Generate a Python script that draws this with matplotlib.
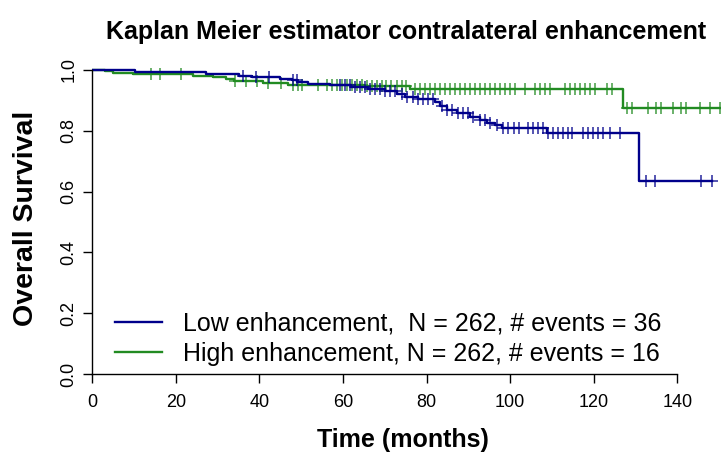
import matplotlib
matplotlib.use("Agg")
import matplotlib.pyplot as plt
import numpy as np

plt.rcParams['font.family'] = ['Liberation Sans', 'DejaVu Sans']

title = "Kaplan Meier estimator contralateral enhancement"
xlabel = "Time (months)"
ylabel = "Overall Survival"

low_label = "Low enhancement,  N = 262, # events = 36"
high_label = "High enhancement, N = 262, # events = 16"

# Low enhancement step curve
low_times = [0, 10.2, 27.2, 35.1, 38.1, 44.9, 47.7, 49.0, 51.6, 56.9, 62.0, 66.0, 70.0,
             72.9, 74.8, 78.0, 82.0, 83.2, 84.8, 87.2, 90.4, 92.8, 94.4, 96.4, 98.0,
             108.7, 130.9]
low_surv = [1.0, 0.993, 0.986, 0.981, 0.977, 0.972, 0.966, 0.959, 0.955, 0.950, 0.944,
            0.938, 0.930, 0.922, 0.912, 0.904, 0.896, 0.883, 0.868, 0.858, 0.846, 0.836,
            0.827, 0.819, 0.810, 0.794, 0.636]
low_end = 148.3
low_censor = [36.1, 39.2, 42.2, 48.1, 48.9, 59.3, 60.5, 61.7, 62.9, 64.1, 65.3, 66.5, 67.7,
              68.9, 70.1, 71.3, 72.5, 74.0, 75.2, 76.8, 78.0, 79.2, 80.4, 81.6, 83.6, 84.8,
              86.0, 87.6, 88.8, 90.0, 91.2, 92.8, 94.0, 95.2, 96.8, 98.4, 99.6, 100.8, 102.0,
              104.3, 105.5, 106.7, 107.9, 109.1, 110.3, 111.5, 112.7, 113.9, 114.8, 117.5,
              118.7, 119.9, 121.1, 122.3, 123.9, 126.3, 132.4, 134.6, 145.6, 148.3]

# High enhancement step curve
high_times = [0, 3.0, 5.0, 9.7, 24.0, 29.0, 32.0, 34.0, 40.8, 46.8, 65.0, 76.0, 127.1]
high_surv = [1.0, 0.997, 0.991, 0.986, 0.981, 0.976, 0.970, 0.965, 0.958, 0.952, 0.947,
             0.9375, 0.876]
high_end = 151.0
high_censor = [14.1, 16.2, 21.2, 34.1, 36.9, 39.3, 42.1, 45.1, 48.1, 49.3, 50.1, 54.1, 56.1,
               57.3, 58.5, 59.7, 60.9, 62.1, 63.3, 64.5, 65.7, 66.9, 68.1, 69.3, 70.4, 71.6,
               72.8, 74.0, 75.0, 77.2, 78.4, 79.6, 80.8, 82.0, 83.2, 84.4, 85.6, 86.8, 88.0,
               89.2, 90.4, 91.6, 92.8, 94.0, 95.2, 96.4, 97.6, 98.8, 100.0, 101.1, 103.5,
               105.9, 107.1, 108.3, 109.5, 113.1, 114.3, 115.5, 116.7, 117.9, 119.1, 120.3,
               123.1, 124.3, 127.9, 129.1, 133.1, 135.0, 136.2, 139.0, 141.0, 142.2, 145.4,
               147.8, 150.2]

xticks = [0, 20, 40, 60, 80, 100, 120, 140]
yticks = [0.0, 0.2, 0.4, 0.6, 0.8, 1.0]

low_color = "#00008B"
high_color = "#228B22"

W, H = 721, 453
fig = plt.figure(figsize=(W / 100, H / 100), dpi=100)

# pixel geometry: x=0 -> 92.3 px, x=140 -> 677.3 px ; y=0 -> 374 px, y=1 -> 70 px
px_per_x = (677.3 - 92.3) / 140
px_per_y = (374 - 70) / 1.0
left_px, bottom_px = 92.3, 374
xmax = (W - left_px) / px_per_x
top_px = 55
ymax = (bottom_px - top_px) / px_per_y
ax = fig.add_axes([left_px / W, (H - bottom_px) / H, (W - left_px) / W, (bottom_px - top_px) / H])
ax.set_xlim(0, xmax)
ax.set_ylim(0, ymax)


def step_at(times, surv, t):
    idx = np.searchsorted(np.array(times), t, side='right') - 1
    return np.array(surv)[idx]


for times, surv, end, cens, col, lab in [
        (high_times, high_surv, high_end, high_censor, high_color, high_label),
        (low_times, low_surv, low_end, low_censor, low_color, low_label)]:
    xs = list(times) + [end]
    ys = list(surv) + [surv[-1]]
    ax.step(xs, ys, where='post', color=col, lw=1.7, label=lab)
    ax.plot(cens, step_at(times, surv, cens), ls='none', marker='+', ms=8.5,
            mew=1.1, color=col, alpha=0.85)

for s in ['top', 'right']:
    ax.spines[s].set_visible(False)
ax.spines['left'].set_bounds(0, 1)
ax.spines['bottom'].set_bounds(0, 140)
for s in ['left', 'bottom']:
    ax.spines[s].set_linewidth(1.0)
tick_font = ['Liberation Sans Narrow', 'Liberation Sans', 'DejaVu Sans']
ax.set_xticks(xticks)
ax.set_xticklabels([str(v) for v in xticks], family=tick_font, fontsize=13)
ax.set_yticks(yticks)
ax.set_yticklabels([f"{v:.1f}" for v in yticks], rotation=90, va='center',
                   family=tick_font, fontsize=13)
ax.tick_params(axis='both', length=6.5, width=1.0, direction='out')
ax.tick_params(axis='x', pad=8)
ax.tick_params(axis='y', pad=4)

handles, labels = ax.get_legend_handles_labels()
order = [1, 0]
leg = ax.legend([handles[i] for i in order], [labels[i] for i in order],
                loc='center left', bbox_to_anchor=((115 - left_px) / (W - left_px),
                                                   (bottom_px - 338.5) / (bottom_px - top_px)),
                frameon=False, fontsize=18, handlelength=1.88, handletextpad=0.84,
                labelspacing=0.26, borderaxespad=0, borderpad=0)

fig.text(406 / W, 1 - 32 / H, title, ha='center', va='center', fontsize=18,
         fontweight='bold')
fig.text(403 / W, 1 - 440 / H, xlabel, ha='center', va='center', fontsize=18,
         fontweight='bold')
fig.text(26 / W, 1 - 218 / H, ylabel, ha='center', va='center', fontsize=20.5,
         fontweight='bold', rotation=90)

fig.savefig("out.png", dpi=100)
